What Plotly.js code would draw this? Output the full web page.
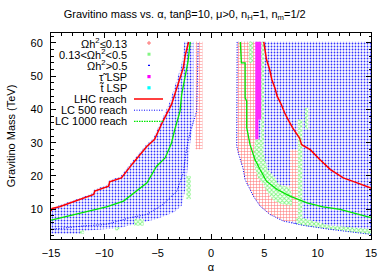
<!DOCTYPE html>
<html><head><meta charset="utf-8">
<script src="https://cdn.plot.ly/plotly-3.0.1.min.js"></script>
<style>html,body{margin:0;padding:0;background:#fff}#chart{width:389px;height:273px}</style>
</head><body><div id="chart"></div>
<script>
// ---- reach curves (alpha, gravitino mass in TeV) ----
const lhcLeftA  = [-15, -14.9, -14.2, -12.6, -11.0, -10.9, -9.6, -9.5, -8.4, -7.3, -6.0, -5.3, -4.9, -4.5, -3.7, -3.2, -2.6, -2.4, -2.1];
const lhcLeftM  = [9.4, 10.2, 10.7, 12.6, 14.4, 15.4, 16.9, 18.2, 19.4, 23.9, 28.9, 30.9, 33.9, 36.5, 41.5, 46.5, 52.5, 56.5, 60.3];
const lhcRightA = [4.95, 5.2, 5.5, 5.7, 6.0, 6.2, 6.6, 6.9, 7.3, 7.7, 8.3, 8.5, 9.3, 10.2, 11.2, 12.4, 13.7, 15];
const lhcRightM = [60.3, 55, 52, 49, 46.4, 44, 41.4, 39, 36.5, 34.2, 31.4, 29.4, 27.9, 24.9, 21.9, 19.4, 17.9, 16.3];
const lc1000LeftA  = [-15, -12.9, -9.8, -8.2, -7.0, -6.0, -5.1, -4.3, -3.7, -3.4, -2.9, -2.75, -2.45, -2.15, -1.95];
const lc1000LeftM  = [6.7, 8.4, 10.7, 12.4, 15.4, 17.9, 22.9, 25.4, 29.9, 33.9, 39.5, 44.5, 49.5, 54.5, 60.3];
const lc1000RightA = [2.75, 2.85, 3.2, 3.2, 3.35, 3.35, 3.66, 4.12, 4.6, 5.2, 6.2, 7.4, 9.0, 10.5, 12.1, 14.0, 15];
const lc1000RightM = [60.3, 54, 54, 43.5, 42.5, 34.5, 29.4, 24.9, 21.9, 18.4, 15.9, 13.9, 11.9, 10.7, 9.9, 8.4, 7.4];
const lc500LeftA  = [-15, -12.0, -9.8, -7.6, -6.0, -4.5, -3.2, -2.6, -2.3, -1.97, -1.34, -1.2, -1.2];
const lc500LeftM  = [3.9, 4.9, 5.4, 7.4, 8.4, 11.4, 15.4, 20.9, 27.9, 33, 39.5, 54.5, 60.3];
const lc500RightA = [2.45, 2.41, 2.56, 3.03, 3.19, 3.5, 3.97, 4.6, 5.53, 6.78, 8.66, 11.16, 13.66, 15];
const lc500RightM = [60.3, 28.9, 26.9, 21.9, 18.9, 16.9, 13.9, 10.9, 8.4, 6.4, 5.1, 3.9, 2.9, 2.4];

// ---- scanned regions (outlines, alpha / mass) ----
// Omega h^2 > 0.5 (blue)
const blueLeftA  = [-15, -14.2, -12.6, -11.1, -11.0, -9.7, -9.6, -8.5, -7.4, -6.1, -5.4, -5.0, -4.6, -3.9, -3.4, -2.8, -2.6, -2.5, -1.65, -1.65, -1.95, -2.2, -2.4, -2.75, -3.5, -5.1, -7.0, -8.8, -12.1, -12.1, -15];
const blueLeftM  = [9.8, 11.2, 13.0, 14.8, 15.8, 17.3, 18.6, 19.8, 24.3, 29.3, 31.3, 34.3, 37, 42, 47, 53, 57, 60.4, 60.4, 36, 30, 22, 16, 11, 9, 7, 5.5, 4.2, 3.4, 2.6, 2.6];
const blueRightA = [2.45, 15, 15, 13.6, 11.1, 8.6, 6.8, 5.5, 4.6, 3.97, 3.5, 3.19, 3.03, 2.56, 2.41];
const blueRightM = [60.4, 60.4, 3.0, 3.0, 3.9, 5.1, 6.4, 8.4, 10.9, 13.9, 16.9, 18.9, 21.9, 26.9, 28.9];
// Omega h^2 <= 0.13 (red)
const redLeftA  = [-1.45, -0.8, -0.8, -1.45];
const redLeftM  = [60.4, 60.4, 28, 28];
const redRightA = [2.45, 4.15, 4.15, 4.05, 4.4, 5.0, 6.0, 7.4, 7.4, 8.15, 8.15, 6.8, 5.5, 4.6, 3.97, 3.5, 3.19, 3.03, 2.56, 2.41];
const redRightM = [60.4, 60.4, 30, 25, 21, 19, 17.5, 17, 28, 28, 6.2, 6.4, 8.4, 10.9, 13.9, 16.9, 18.9, 21.9, 26.9, 28.9];
// 0.13 < Omega h^2 < 0.5 (green)
const greenBandA = [4.7, 4.97, 4.97, 4.9, 5.3, 6.0, 6.3, 7.4, 7.6, 7.6, 6.6, 5.9, 5.4, 4.9, 4.4, 4.1, 4.0, 4.15, 4.7];
const greenBandM = [60.4, 60.4, 32, 27, 22, 19.5, 17.5, 16.5, 14, 11, 11.5, 12.5, 14.5, 17.5, 19.5, 22.5, 26, 31, 31];
const greenColA  = [3.55, 3.95, 3.95, 3.55];
const greenColM  = [60.4, 60.4, 54, 54];
const greenCol8A = [8.15, 8.55, 8.55, 8.15];
const greenCol8M = [37, 37, 6, 6];
const greenCol9A = [8.8, 9.1, 9.1, 8.8];
const greenCol9M = [40.5, 40.5, 34, 34];
const greenLowA  = [8.0, 8.6, 11.2, 12.1, 15, 15, 13.66, 11.16, 8.66, 8.0];
const greenLowM  = [7.3, 7.3, 5.0, 4.8, 3.9, 2.4, 2.9, 3.9, 5.1, 5.6];
const greenLeft1A = [-12.3, -11.9, -11.9, -12.3];
const greenLeft1M = [2.6, 2.6, 3.6, 3.6];
const greenLeft2A = [-9.0, -8.6, -8.6, -9.0];
const greenLeft2M = [3.6, 3.6, 4.6, 4.6];
const greenLeft3A = [-7.2, -6.3, -6.3, -7.2];
const greenLeft3M = [5.0, 5.0, 7.0, 7.0];
const greenLeft4A = [-2.3, -1.9, -1.9, -2.3];
const greenLeft4M = [13, 13, 20, 20];
// stau LSP (magenta)
const stauA = [4.15, 4.7, 4.7, 4.45, 4.45, 4.15];
const stauM = [60.4, 60.4, 37, 37, 31, 31];

// legend labels
const legendLabels = ['Ωh<sup>2</sup>≤0.13', '0.13&lt;Ωh<sup>2</sup>&lt;0.5', 'Ωh<sup>2</sup>&gt;0.5', 'τ̃ LSP', 't̃ LSP', 'LHC reach', 'LC 500 reach', 'LC 1000 reach'];

const FONT = 'Liberation Sans, Arial, Helvetica, sans-serif';
const BLUE = 'rgb(0,0,255)', RED = 'rgb(255,0,0)', GREEN = 'rgb(0,230,0)';

function region(a, m, shape, fg, bg, size, sol) {
  return {x: a, y: m, type: 'scatter', mode: 'none', fill: 'toself', hoverinfo: 'skip', showlegend: false,
    fillcolor: fg,
    fillpattern: {shape: shape, fgcolor: fg, bgcolor: bg, size: size, solidity: sol, fillmode: 'replace'}};
}
function solid(a, m, col) {
  return {x: a, y: m, type: 'scatter', mode: 'none', fill: 'toself', fillcolor: col, hoverinfo: 'skip', showlegend: false};
}
function line(a, m, col, w, dash) {
  return {x: a, y: m, type: 'scatter', mode: 'lines', line: {color: col, width: w, dash: dash}, hoverinfo: 'skip', showlegend: false};
}

const BLUEPAT = 'rgba(50,50,255,1)';
const REDPAT = 'rgba(255,110,110,1)';
const GREENPAT = 'rgba(130,245,130,1)';

const traces = [
  region(blueLeftA, blueLeftM, '.', BLUEPAT, 'rgba(0,0,0,0)', 3, 0.28),
  region(blueRightA, blueRightM, '.', BLUEPAT, 'rgba(0,0,0,0)', 3, 0.28),
  region(redLeftA, redLeftM, '+', REDPAT, 'white', 3, 0.3),
  region(redRightA, redRightM, '+', REDPAT, 'white', 3, 0.3),
  region(greenBandA, greenBandM, 'x', GREENPAT, 'white', 3, 0.5),
  region(greenColA, greenColM, 'x', GREENPAT, 'white', 3, 0.5),
  region(greenCol8A, greenCol8M, 'x', GREENPAT, 'white', 3, 0.5),
  region(greenCol9A, greenCol9M, 'x', GREENPAT, 'white', 3, 0.5),
  region(greenLowA, greenLowM, 'x', GREENPAT, 'white', 3, 0.5),
  region(greenLeft1A, greenLeft1M, 'x', GREENPAT, 'white', 3, 0.5),
  region(greenLeft2A, greenLeft2M, 'x', GREENPAT, 'white', 3, 0.5),
  region(greenLeft3A, greenLeft3M, 'x', GREENPAT, 'white', 3, 0.5),
  region(greenLeft4A, greenLeft4M, 'x', GREENPAT, 'white', 3, 0.5),
  solid(stauA, stauM, 'rgb(255,40,255)'),
  line(lc500LeftA, lc500LeftM, BLUE, 1, '1px,1.5px'),
  line(lc500RightA, lc500RightM, BLUE, 1, '1px,1.5px'),
  line(lc1000LeftA, lc1000LeftM, GREEN, 1.3, 'solid'),
  line(lc1000RightA, lc1000RightM, GREEN, 1.3, 'solid'),
  line(lhcLeftA, lhcLeftM, RED, 1.5, 'solid'),
  line(lhcRightA, lhcRightM, RED, 1.5, 'solid')
];

// custom gnuplot-style key (text right-aligned, sample on the right)
const L = 51, T = 33, W = 320, H = 206;
const px = v => (v - L) / W;
const py = v => (T + H - v) / H;
const rowY = i => 43 + 11.2 * i;
const annotations = legendLabels.map((t, i) => ({
  text: t, xref: 'paper', yref: 'paper', x: px(129), y: py(rowY(i)), xanchor: 'right', yanchor: 'middle',
  showarrow: false, font: {family: FONT, size: 11, color: '#000'}
}));
const shapes = [];
const sx = 149;
// red plus
shapes.push({type: 'line', xref: 'paper', yref: 'paper', x0: px(sx - 2), x1: px(sx + 2), y0: py(rowY(0)), y1: py(rowY(0)), line: {color: REDPAT, width: 1}});
shapes.push({type: 'line', xref: 'paper', yref: 'paper', x0: px(sx), x1: px(sx), y0: py(rowY(0) - 2), y1: py(rowY(0) + 2), line: {color: REDPAT, width: 1}});
// green square
shapes.push({type: 'rect', xref: 'paper', yref: 'paper', x0: px(sx - 1.5), x1: px(sx + 1.5), y0: py(rowY(1) - 1.5), y1: py(rowY(1) + 1.5), line: {width: 0}, fillcolor: GREENPAT});
// blue dot
shapes.push({type: 'rect', xref: 'paper', yref: 'paper', x0: px(sx - 1), x1: px(sx + 1), y0: py(rowY(2) - 0.7), y1: py(rowY(2) + 0.7), line: {width: 0}, fillcolor: BLUE});
// magenta / cyan squares
shapes.push({type: 'rect', xref: 'paper', yref: 'paper', x0: px(sx - 1.6), x1: px(sx + 1.6), y0: py(rowY(3) - 1.6), y1: py(rowY(3) + 1.6), line: {width: 0}, fillcolor: 'rgb(255,0,255)'});
shapes.push({type: 'rect', xref: 'paper', yref: 'paper', x0: px(sx - 1.6), x1: px(sx + 1.6), y0: py(rowY(4) - 1.6), y1: py(rowY(4) + 1.6), line: {width: 0}, fillcolor: 'rgb(0,255,255)'});
// line samples
shapes.push({type: 'line', xref: 'paper', yref: 'paper', x0: px(134), x1: px(163), y0: py(rowY(5)), y1: py(rowY(5)), line: {color: RED, width: 1.5}});
shapes.push({type: 'line', xref: 'paper', yref: 'paper', x0: px(134), x1: px(163), y0: py(rowY(6)), y1: py(rowY(6)), line: {color: BLUE, width: 1, dash: '1px,1.5px'}});
shapes.push({type: 'line', xref: 'paper', yref: 'paper', x0: px(134), x1: px(163), y0: py(rowY(7)), y1: py(rowY(7)), line: {color: GREEN, width: 1.3, dash: '1.5px,1px'}});

const axisCommon = {
  showgrid: false, zeroline: false, showline: true, linecolor: '#000', linewidth: 1, mirror: 'allticks',
  ticks: 'inside', ticklen: 5, tickcolor: '#000', tickwidth: 1,
  tickfont: {family: FONT, size: 11, color: '#000'}
};
const layout = {
  width: 389, height: 273,
  margin: {l: L, r: 389 - L - W, t: T, b: 273 - T - H, pad: 0},
  paper_bgcolor: '#fff', plot_bgcolor: '#fff',
  font: {family: FONT, size: 11, color: '#000'},
  showlegend: false,
  title: {text: 'Gravitino mass vs. α, tanβ=10, μ&gt;0, n<sub>H</sub>=1, n<sub>m</sub>=1/2',
    font: {family: FONT, size: 11, color: '#000'}, x: 0.4748, xref: 'container', xanchor: 'center',
    y: 1 - 14 / 273, yref: 'container', yanchor: 'middle'},
  xaxis: Object.assign({}, axisCommon, {
    range: [-15, 15], tickmode: 'linear', tick0: -15, dtick: 5, ticklabelstandoff: 4,
    minor: {dtick: 1, ticks: 'inside', ticklen: 2.5, tickcolor: '#000'},
    title: {text: 'α', font: {family: FONT, size: 11}, standoff: 6}
  }),
  yaxis: Object.assign({}, axisCommon, {
    range: [1, 63], tickmode: 'array', tickvals: [10, 20, 30, 40, 50, 60], ticklabelstandoff: 5,
    minor: {tickmode: 'linear', tick0: 0, dtick: 2, ticks: 'inside', ticklen: 2.5, tickcolor: '#000'},
    title: {text: 'Gravitino Mass (TeV)', font: {family: FONT, size: 11}, standoff: 12}
  }),
  annotations: annotations,
  shapes: shapes
};
Plotly.newPlot('chart', traces, layout, {staticPlot: true, displayModeBar: false});
</script></body></html>
